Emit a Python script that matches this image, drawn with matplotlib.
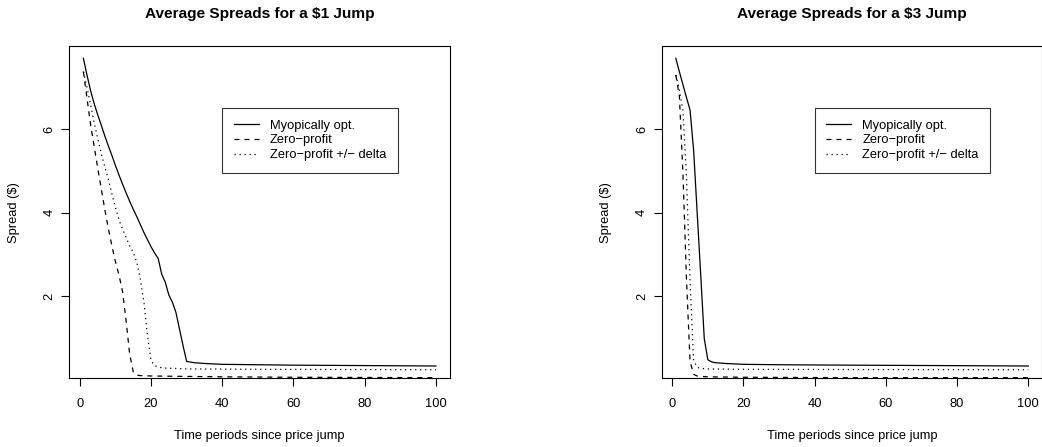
import matplotlib
matplotlib.use("Agg")
import matplotlib.pyplot as plt

plt.rcParams['font.family'] = ['Liberation Sans', 'DejaVu Sans']

# ---- data ----
# $1 jump
t1_myopic = list(range(1, 31)) + [32, 35, 40, 50, 60, 80, 100]
v1_myopic = [7.70, 7.30, 6.93, 6.62, 6.35, 6.10, 5.84, 5.60, 5.37, 5.13,
             4.90, 4.68, 4.47, 4.27, 4.08, 3.90, 3.71, 3.52, 3.35, 3.18,
             3.03, 2.90, 2.52, 2.33, 2.02, 1.85, 1.60, 1.20, 0.80, 0.43,
             0.40, 0.38, 0.36, 0.35, 0.34, 0.33, 0.32]
t1_zero = list(range(1, 18)) + [20, 30, 40, 60, 100]
v1_zero = [7.38, 6.75, 6.12, 5.60, 5.08, 4.58, 4.08, 3.62, 3.20, 2.82,
           2.50, 2.10, 1.40, 0.60, 0.18, 0.10, 0.09,
           0.08, 0.07, 0.06, 0.05, 0.04]
t1_delta = list(range(1, 23)) + [24, 30, 50, 100]
v1_delta = [7.38, 7.00, 6.60, 6.17, 5.78, 5.42, 5.10, 4.80, 4.45, 4.12,
            3.82, 3.60, 3.40, 3.20, 3.05, 2.80, 2.40, 1.85, 1.05, 0.45,
            0.33, 0.29, 0.27, 0.25, 0.24, 0.23]

# $3 jump
t3_myopic = list(range(1, 13)) + [15, 20, 30, 50, 100]
v3_myopic = [7.70, 7.38, 7.07, 6.76, 6.46, 5.50, 4.00, 2.50, 0.97, 0.47,
             0.42, 0.40, 0.38, 0.36, 0.35, 0.34, 0.32]
t3_zero = list(range(1, 9)) + [10, 20, 50, 100]
v3_zero = [7.30, 6.80, 4.95, 2.40, 0.43, 0.12, 0.08, 0.07,
           0.06, 0.05, 0.04, 0.04]
t3_delta = list(range(1, 9)) + [10, 20, 50, 100]
v3_delta = [7.30, 6.95, 6.45, 4.85, 2.35, 0.45, 0.29, 0.26,
            0.25, 0.24, 0.235, 0.23]

titles = ["Average Spreads for a $1 Jump", "Average Spreads for a $3 Jump"]
labels = ["Myopically opt.", "Zero\u2212profit", "Zero\u2212profit +/\u2212 delta"]
x_ticks = [0, 20, 40, 60, 80, 100]
y_ticks = [2, 4, 6]

panels = [
    (t1_myopic, v1_myopic, t1_zero, v1_zero, t1_delta, v1_delta),
    (t3_myopic, v3_myopic, t3_zero, v3_zero, t3_delta, v3_delta),
]

W, H = 1042, 447
fig = plt.figure(figsize=(W / 100, H / 100), dpi=100)

base = 9.25
box_w, box_h = 380.7, 332.3
lefts = [69.3, 661.7]
top = 46.0

for left, title, (tm, vm, tz, vz, td, vd) in zip(lefts, titles, panels):
    ax = fig.add_axes([left / W, (H - top - box_h) / H, box_w / W, box_h / H])
    ax.plot(tm, vm, color='black', lw=0.9, label=labels[0])
    ax.plot(tz, vz, color='black', lw=0.9, dashes=(4, 4), label=labels[1])
    ax.plot(td, vd, color='black', lw=0.9, dashes=(1, 3), label=labels[2])

    # R-style 4% padding around the first series / the time range
    lo, hi = min(vm), max(vm)
    pad = 0.04 * (hi - lo)
    ax.set_ylim(lo - pad, hi + pad)
    xpad = 0.04 * (100 - 1)
    ax.set_xlim(1 - xpad, 100 + xpad)

    ax.set_xticks(x_ticks)
    ax.set_yticks(y_ticks)
    ax.set_yticklabels([str(v) for v in y_ticks], rotation=90, va='center')
    ax.tick_params(direction='out', length=5.8, width=0.8, labelsize=base)
    ax.tick_params(axis='x', pad=8.5)
    ax.tick_params(axis='y', pad=4)
    for s in ax.spines.values():
        s.set_linewidth(0.8)

    ax.set_xlabel("Time periods since price jump", fontsize=base)
    ax.set_ylabel("Spread ($)", fontsize=base)
    ax.xaxis.set_label_coords(0.5, (378.3 - 435.7) / box_h)
    ax.xaxis.label.set_va('center')
    ax.yaxis.set_label_coords((14 - 69.3) / box_w, 0.5)
    ax.yaxis.label.set_va('center')

    ax.set_title(title, fontsize=11.1, fontweight='bold',
                 y=1 + (top - 14) / box_h, va='center', pad=0)

    leg = ax.legend(loc='upper left',
                    bbox_to_anchor=((222.3 - 69.3) / box_w, 1 - (108.3 - 46) / box_h),
                    borderaxespad=0, fontsize=base, frameon=True, fancybox=False,
                    handlelength=1.95, handletextpad=0.85, borderpad=0.9,
                    labelspacing=0.2)
    leg.get_frame().set_edgecolor('black')
    leg.get_frame().set_linewidth(0.8)

fig.savefig("out.png", dpi=100)
